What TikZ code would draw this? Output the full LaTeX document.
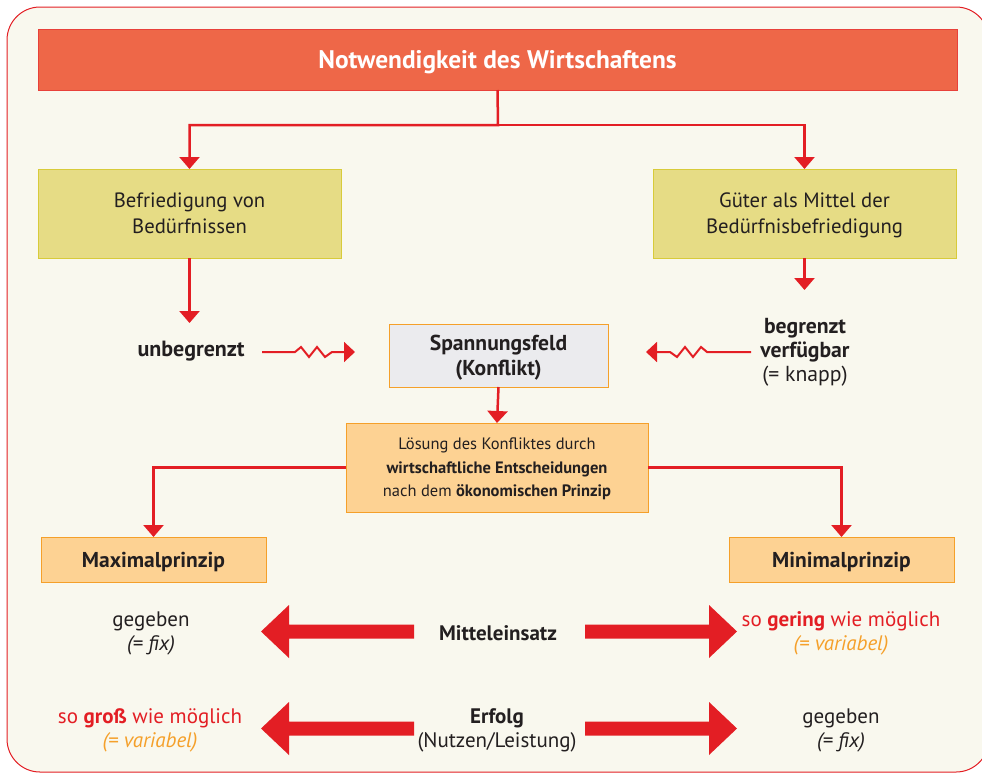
\documentclass[tikz,border=0pt]{standalone}
\usepackage{fontspec}
\setmainfont{PT Sans}
\usetikzlibrary{arrows.meta}
\definecolor{framered}{HTML}{E31E24}
\definecolor{cream}{HTML}{F9F8EE}
\definecolor{titlefill}{HTML}{EE6748}
\definecolor{titledraw}{HTML}{E8413A}
\definecolor{yelfill}{HTML}{E6DC85}
\definecolor{yeldraw}{HTML}{D8CB3A}
\definecolor{greyfill}{HTML}{EBEBEE}
\definecolor{orfill}{HTML}{FDD293}
\definecolor{ordraw}{HTML}{F5A02A}
\definecolor{ink}{HTML}{231F20}
\tikzset{
  box/.style={draw, line width=1pt, inner sep=0pt, outer sep=0pt, align=center, text=ink, text depth=0pt},
  titlebox/.style={box, fill=titlefill, draw=titledraw, text=white, font=\fontsize{25.4}{30}\selectfont\bfseries},
  yelbox/.style={box, fill=yelfill, draw=yeldraw, font=\fontsize{20.7}{26}\selectfont},
  greybox/.style={box, fill=greyfill, draw=ordraw, font=\fontsize{21.6}{25}\selectfont\bfseries},
  orbox/.style={box, fill=orfill, draw=ordraw},
  conn/.style={draw=framered, line width=2.5pt, -{Triangle[width=20pt,length=12pt]}},
  plain/.style={inner sep=0pt, align=center, text=ink, text depth=0pt},
  bottomtext/.style={plain, font=\fontsize{21}{24}\selectfont},
  bigarrow/.style={fill=framered, draw=none},
}
\begin{document}
\begin{tikzpicture}[x=1pt,y=-1pt]
\useasboundingbox (0,0) rectangle (982,774);
\draw[framered, fill=cream, line width=1pt, rounded corners=33pt] (7,7) rectangle (989,772);

% boxes
\node[titlebox, minimum width=919pt, minimum height=61pt] (title) at (497.5,59.5) {Notwendigkeit des Wirtschaftens};
\node[yelbox, minimum width=303pt, minimum height=89pt] (bed) at (189.5,213.5) {Befriedigung von\\Bedürfnissen};
\node[yelbox, minimum width=303pt, minimum height=89pt] (gut) at (804.5,213.5) {Güter als Mittel der\\Bedürfnisbefriedigung};
\node[greybox, minimum width=219pt, minimum height=63pt] (span) at (498.5,355.5) {Spannungsfeld\\(Konflikt)};
\node[orbox, minimum width=302pt, minimum height=89pt, font=\fontsize{16.5}{23.5}\selectfont] (loes) at (497,467.5)
  {Lösung des Konfliktes durch\\\textbf{wirtschaftliche Entscheidungen}\\nach dem \textbf{ökonomischen Prinzip}};
\node[orbox, minimum width=225pt, minimum height=45pt, font=\fontsize{21.5}{24}\selectfont\bfseries] (max) at (153.5,559.5) {Maximalprinzip};
\node[orbox, minimum width=225pt, minimum height=45pt, font=\fontsize{21.5}{24}\selectfont\bfseries] (min) at (841.5,559.5) {Minimalprinzip};

% side texts
\node[plain, font=\fontsize{22}{24}\selectfont\bfseries] (unb) at (191,349) {unbegrenzt};
\node[plain, font=\fontsize{21.7}{24}\selectfont] (begr) at (805,350) {\textbf{begrenzt}\\\textbf{verfügbar}\\(= knapp)};

% connectors
\coordinate (split) at (498,125);
\draw[conn] (title.south) -- (split) -| (bed.north);
\draw[conn] (split) -| (gut.north);
\coordinate (bedend) at (189.5,323);
\coordinate (gutend) at (804.5,290);
\draw[conn] (bed.south) -- (bedend);
\draw[conn] (gut.south) -- (gutend);
\draw[conn] (span.south) -- (loes.north);
\draw[conn] (loes.west) -| (max.north);
\draw[conn] (loes.east) -| (min.north);

% zigzag arrows
\coordinate (zl0) at (262,352);
\coordinate (zl1) at (355,352);
\coordinate (zr0) at (751,352);
\coordinate (zr1) at (646,352);
\draw[conn, line width=2pt, -{Triangle[width=20pt,length=11pt]}] (zl0) -- (295,352) -- (301,347) -- (309,357) -- (317,347) -- (325,357) -- (332,352) -- (zl1);
\draw[conn, line width=2pt, -{Triangle[width=20pt,length=11pt]}] (zr0) -- (707,352) -- (701,347) -- (693,357) -- (685,347) -- (677,357) -- (670,352) -- (zr1);

% bottom rows
\node[bottomtext] (geg1) at (151,631) {gegeben\\\textit{(= fix)}};
\node[bottomtext, font=\fontsize{21}{24}\selectfont\bfseries] (mitt) at (498,633) {Mitteleinsatz};
\node[bottomtext, text=framered] (ger) at (841,631) {so \textbf{gering} wie möglich\\\textcolor{ordraw}{\textit{(= variabel)}}};
\node[bottomtext, text=framered] (gro) at (150,728) {so \textbf{groß} wie möglich\\\textcolor{ordraw}{\textit{(= variabel)}}};
\node[bottomtext] (erf) at (497,728) {\textbf{Erfolg}\\(Nutzen/Leistung)};
\node[bottomtext] (geg2) at (841,728) {gegeben\\\textit{(= fix)}};

% big arrows
\foreach \yy in {631.5,728.5}{
  \fill[bigarrow] (414,\yy-7) -- (289,\yy-7) -- (289,\yy-26.5) -- (261,\yy) -- (289,\yy+26.5) -- (289,\yy+7) -- (414,\yy+7) -- cycle;
  \fill[bigarrow] (585,\yy-7) -- (709,\yy-7) -- (709,\yy-26.5) -- (737,\yy) -- (709,\yy+26.5) -- (709,\yy+7) -- (585,\yy+7) -- cycle;
}
\end{tikzpicture}
\end{document}
